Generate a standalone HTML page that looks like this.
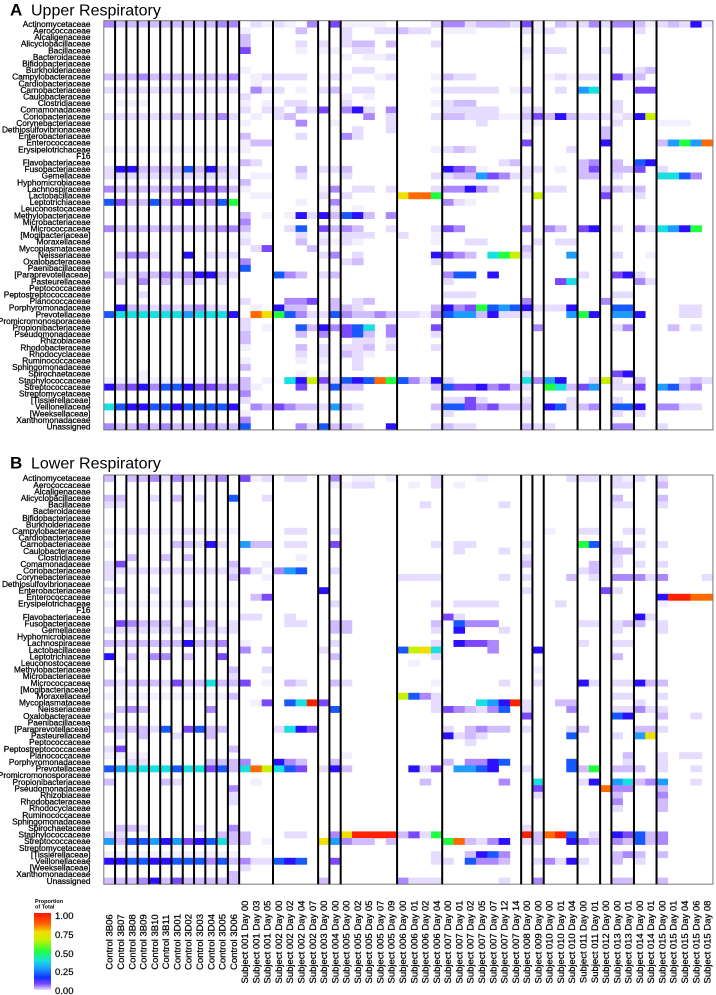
<!DOCTYPE html>
<html><head><meta charset="utf-8">
<style>
html,body{margin:0;padding:0;background:#fff;}
svg{display:block;font-family:"Liberation Sans",Arial,sans-serif;}
</style></head>
<body>
<svg id="chart" width="716" height="995" viewBox="0 0 716 995" xmlns="http://www.w3.org/2000/svg">
<text x="10" y="15.5" font-size="17" font-weight="bold">A</text>
<text x="31" y="15.5" font-size="16">Upper Respiratory</text>
<text x="10" y="468.5" font-size="17" font-weight="bold">B</text>
<text x="31" y="468.5" font-size="16">Lower Respiratory</text>
<g id="legend">
<defs><linearGradient id="lg" x1="0" y1="0" x2="0" y2="1">
<stop offset="0" stop-color="#ff1000"/><stop offset="0.15" stop-color="#ff6a00"/><stop offset="0.25" stop-color="#f0e000"/><stop offset="0.35" stop-color="#c8f000"/><stop offset="0.5" stop-color="#20ff40"/><stop offset="0.62" stop-color="#18e0e0"/><stop offset="0.72" stop-color="#1e9cff"/><stop offset="0.84" stop-color="#1030ff"/><stop offset="0.92" stop-color="#7a48ff"/><stop offset="1" stop-color="#e6dcff"/>
</linearGradient></defs>
<text x="35" y="903" font-size="5.5" font-weight="bold" fill="#000">Proportion</text>
<text x="35" y="908.5" font-size="5.5" font-weight="bold" fill="#000">of Total</text>
<rect x="34" y="913" width="17" height="77" fill="url(#lg)"/>
<g stroke="#000" stroke-width="0.2">
<text x="55" y="919" font-size="9.5">1.00</text>
<text x="55" y="938" font-size="9.5">0.75</text>
<text x="55" y="957" font-size="9.5">0.50</text>
<text x="55" y="975" font-size="9.5">0.25</text>
<text x="55" y="994" font-size="9.5">0.00</text>
</g>
</g>
</svg>
<script>
const families = ["Actinomycetaceae","Aerococcaceae","Alcaligenaceae","Alicyclobacillaceae","Bacillaceae","Bacteroidaceae","Bifidobacteriaceae","Burkholderiaceae","Campylobacteraceae","Cardiobacteriaceae","Carnobacteriaceae","Caulobacteraceae","Clostridiaceae","Comamonadaceae","Coriobacteriaceae","Corynebacteriaceae","Dethiosulfovibrionaceae","Enterobacteriaceae","Enterococcaceae","Erysipelotrichaceae","F16","Flavobacteriaceae","Fusobacteriaceae","Gemellaceae","Hyphomicrobiaceae","Lachnospiraceae","Lactobacillaceae","Leptotrichiaceae","Leuconostocaceae","Methylobacteriaceae","Microbacteriaceae","Micrococcaceae","[Mogibacteriaceae]","Moraxellaceae","Mycoplasmataceae","Neisseriaceae","Oxalobacteraceae","Paenibacillaceae","[Paraprevotellaceae]","Pasteurellaceae","Peptococcaceae","Peptostreptococcaceae","Planococcaceae","Porphyromonadaceae","Prevotellaceae","Promicromonosporaceae","Propionibacteriaceae","Pseudomonadaceae","Rhizobiaceae","Rhodobacteraceae","Rhodocyclaceae","Ruminococcaceae","Sphingomonadaceae","Spirochaetaceae","Staphylococcaceae","Streptococcaceae","Streptomycetaceae","[Tissierellaceae]","Veillonellaceae","[Weeksellaceae]","Xanthomonadaceae","Unassigned"];
const samples = ["Control 3B06","Control 3B07","Control 3B08","Control 3B09","Control 3B10","Control 3B11","Control 3D01","Control 3D02","Control 3D03","Control 3D04","Control 3D05","Control 3D06","Subject 001 Day 00","Subject 001 Day 03","Subject 001 Day 05","Subject 002 Day 00","Subject 002 Day 02","Subject 002 Day 04","Subject 002 Day 07","Subject 003 Day 00","Subject 004 Day 00","Subject 005 Day 00","Subject 005 Day 02","Subject 005 Day 05","Subject 005 Day 07","Subject 005 Day 09","Subject 006 Day 00","Subject 006 Day 01","Subject 006 Day 02","Subject 006 Day 04","Subject 007 Day 00","Subject 007 Day 01","Subject 007 Day 02","Subject 007 Day 05","Subject 007 Day 07","Subject 007 Day 12","Subject 007 Day 14","Subject 008 Day 00","Subject 009 Day 00","Subject 010 Day 00","Subject 010 Day 01","Subject 010 Day 04","Subject 011 Day 00","Subject 011 Day 01","Subject 012 Day 00","Subject 013 Day 00","Subject 013 Day 01","Subject 014 Day 00","Subject 014 Day 01","Subject 015 Day 00","Subject 015 Day 01","Subject 015 Day 04","Subject 015 Day 06","Subject 015 Day 08"];
const groupBreaks = [1,2,3,4,5,6,7,8,9,10,11,12,15,19,20,21,26,30,37,38,39,42,44,45,47,49];
const levelCodes = ".abcdefghijklmn";
const levelValues = [0,0.01,0.025,0.045,0.07,0.1,0.14,0.2,0.3,0.38,0.5,0.65,0.75,0.85,0.97];
const upperRows = [
"0:d 1-9:c 10-11:d 13:b 14:a 15:b 16:a 18:d 20:e 21-24:a 29:b 30-31:d 32:b 33-35:c 36:b 37:e 38:a 40:c 41:b 42:b 43:d 44:b 45-46:d 47:c 48:a 49:b 50:c 51:b 52:f 53:a",
"12:a 17:c 21:b 24-25:b 26:c 27-28:b 30-32:a 37:b 38:a 39:b 47:b",
"12:c 21:b",
"12:c 17:b 19:b 21:b 22-23:c 25:c 29:b",
"12:e 17:a 19-20:a 22-23:b 37:b 39-40:b 44:b",
"21:a 23-24:a 25:b 37:a",
"",
"12:a 22-23:b 47:b 48:c",
"0-11:c 3:d 11:d 13:a 14-17:b 19:a 20:b 21:a 24:a 25:b 29:a 30:c 31-32:b 39:a 40:b 41:a 42-43:b 45:e 46-47:c",
"13:a",
"0-11:b 13:d 14-15:b 17:a 19:b 20:c 22-23:b 29:a 30-34:b 36:a 37:c 40:b 42:h 43:i 47-48:e",
"12:b 21:a 23:a",
"1-3:a 12:a 14:a 16-17:b 21:b 29:a 30:b 31-32:c 45:b",
"12:b 14-15:b 17:c 18:b 19:e 21:d 22:f 23:b 25:d 30-34:b 37-38:b 45:b",
"0-11:b 6:c 8:c 10:d 13:a 15:b 16:c 23:d 25:b 29:b 30-31:c 32-34:b 35-36:a 37:c 38:e 39:c 40:f 41:c 42-44:b 45:a 46:b 47:f 48:k",
"12:a 17:d 20:a 25:b 33:b 37-38:a 45:b 49-51:a",
"22:b 25:b 37:a 44:c",
"12:c 17:b 21:d 22:b 44:c",
"12:a 13-14:c 37:e 44:f 49:c 50:h 51:j 52:h 53:m",
"0-11:a 12:a 29:a 30:b 31:c 32:b 41:b",
"",
"12:c 13:b 35:b 36:c 42:c 43:d 45:c 47:g 48:f",
"0:b 1:f 2:f 3-6:c 7:g 8:c 9:f 10:c 11:b 17:c 19-20:b 21:c 30:f 31:e 32:d 33:a 37-38:b 40:a 42:c 43:e 45-46:c 47:e 49:b",
"0-11:b 13-14:a 17:b 21:b 29:b 30:b 31-32:c 33:h 34:e 35:d 36:b 37:b 42-43:c 45:b 49-50:i 51:g 52:d",
"12:c",
"0-7:c 0:d 6-7:d 8-9:e 10:d 11:c 12:a 19:a 20:d 22-23:b 25:b 29:b 30-31:d 32:f 33:d 34:b 37:b 39-40:b 44:c 45:c 46:b 47:c",
"13-14:a 19:b 21:b 26:l 27:m 28:m 29:j 38:k 44:e 47:b",
"0:g 1:e 2-3:c 4:g 5:c 6:e 7:f 8:d 9:d 10:g 11:j 17:a 20:d 30:d 31:b 32:a",
"20:a 22:a",
"12:c 14:a 16:a 17:f 18:b 19:f 20:c 21:g 22:f 23:c 25:d",
"12:d",
"0-11:c 0:d 10-11:d 12:c 16:b 17:g 19:e 20:c 21:d 22:c 25:b 29:b 30:e 31:d 37:d 39:d 40:c 42:e 43:f 45:b 47:d 48:b 49:i 50:h 51:f 52:j",
"12:a 17:b 19:a 21:b 22-23:b 26:b 29:a",
"12:b 17:c 19:b 20:a 21:b 22:a 29:a 32-33:b 38:b 40-41:b",
"13:b 14:e 18:c 37:c",
"1:c 2-3:d 4:b 7:f 9-11:b 19:b 20:d 22:b 29:f 30:e 31:d 32:c 34:i 35:j 36:k 37:b 41:h 45:b 48:a",
"12:d 21:b 22:c 29:b",
"12:g",
"0:c 1-2:b 3-4:c 5:d 6:c 7:d 8-9:f 10:c 11:b 15:g 16:d 17:c 19:b 20:c 30:d 31-32:g 34:f 42:b 45:e 46:f 47:b",
"1:c 3:d 5:c 7:c 8:b 10:b 30:b 40:e 41:i 47:d 48:b",
"",
"3:b 30-32:b 45-46:b",
"12:b 16-17:d 18:e 20:c 22:b 23:c 37:d 44:d",
"1:f 2-3:c 4:b 5:c 6:b 7:c 8:d 9-10:b 13:a 15:f 16-17:c 20-21:c 22:b 29:c 30:f 31:d 32:e 33:j 34:g 35:h 36:g 37:f 38:b 39-40:b 41:f 45-46:g 51-52:b",
"0:g 1-6:i 7:h 8-10:i 11:f 13:m 14:l 15:j 16:g 17:d 18-19:b 20:g 21:d 22-23:c 24:d 25:c 26-27:b 28:a 29:d 30:g 31-32:h 33:c 34:f 35-36:b 37:b 41:h 42:j 43:f 45-46:h 47:f 51-52:b",
"12:b",
"12:b 14:a 17:g 18:c 19:f 20:d 21:e 22:g 23:i 25:d 29:e 38:d 45:b 46:d 50:c 52:b",
"12:c 17:c 19:d 21:e 22:g 23:c 25:d 29:b",
"12:c 22-23:b 25:a",
"12:a 17:c 19:b 21:b 22:b 23:c 25:b 29:b",
"17:b 19:b 21:c 22:b 23:a",
"12:a 17:a 19:a 22:b",
"12:c 22:b",
"3:a 17:a 19:a 37:b 45:e 46:f",
"0-11:a 12:c 14:a 16:i 17:f 18:k 19:e 20:b 21:g 22:f 23:g 24:m 25:j 26:g 27:d 28:b 29:f 30:b 37:i 38:d 39:h 40:f 43:b 44:k 45:b 47:c 51:b 52:c 53:b",
"0:f 1:d 2:e 3:f 4:d 5-6:g 7:f 8-9:e 10-11:d 12:c 13:a 17:e 19:b 20:g 21-22:c 29:c 30:g 31-32:e 33:f 34:d 35:e 36:c 37:b 39:j 40:i 41:c 42:e 43:h 45-46:b 47:e 49:h 50:g 51:c 52:d",
"12:d",
"12:b 30-31:b 32:e 33:b 37:b 41:b 45:b",
"0:i 1:g 2-3:f 4-5:g 6:f 7-10:g 11:f 13:d 14:c 15:e 16:d 17-18:c 19:b 20:h 21:c 22:b 29:c 30-31:g 32:e 33:d 34:e 35-36:c 37:c 39:f 40:g 41:b 42:c 43:d 45-46:g 47:f 49-50:d 51-52:b",
"12:a 30:b 45:b 47:b",
"12:d",
"0:d 1-2:c 3:d 4:c 5:d 6-8:c 9:d 10-11:c 12:g 17:d 18:b 19:g 20-21:c 22:b 25:f 29:b 30:c 31-32:b 37:c 38-39:b 45-46:d 49:b"
];
const lowerRows = [
"0:c 2-3:c 4:d 5:b 6:d 7:c 8:b 9:c 10:d 12:e 13:a 14:b 16-17:b 20:d 22-23:a 25:a 29:b 33:a 41-43:b 45:b 46:a 47:b 49:b",
"20-21:a 22-23:b 27:a 29:b 31:a 45-46:b 49:c",
"",
"0-1:c 4:b 6:c 8:b 11:g 14:b 45:c 49:c",
"0-1:b 28:b 35:b 45-46:b 49:b",
"","","",
"0-11:a 2-3:b 7-8:b 16-17:b 20:b 39:a 42-43:b 46-47:b",
"",
"0:a 6-7:c 8:b 9:f 10:b 12:h 13-14:c 16-17:b 20:e 29:b 31-32:b 37:b 42:j 43:g 45:b 47:b 49:b",
"31:b 35:b 45-46:c",
"2:c 5:c 7:c 17:a 37:b 45:b",
"0:b 1:e 11:c 14:a 37:c 43:c 45:b 47:b 49:b",
"0-11:b 12:d 13:b 15:d 16:h 17:g 20:b 42:b 43:c",
"0:b 11:c 14:a 26-29:b 35:b 37:b 41:c 43:b 45-47:d 48:b 49:d 53:b",
"",
"0:b 1:c 4:b 19:f 37:b 44:e 45:b",
"13:c 14:e 49:f 50-51:n 52-53:m",
"0-11:a 7:c 20:b 29:b 31-34:b 40:b 49:a",
"",
"12-13:b 16:b 30:e 31:b 47:f 48:b",
"1:e 2:d 3-5:c 7:c 9:c 11:b 16-17:b 20-21:c 29:c 31:g 32-34:d 42-43:b 45:b 46-47:c 49:b",
"0-11:b 20-21:c 29:b 31:f 35:b 45:b 49:b",
"",
"0-6:c 7:f 8-9:c 10:d 12:a 20:b 29:b 31:f 32-33:e 34:d 42:b 45-46:b",
"12:d 14:c 19:b 26:g 27:k 28:l 29:i 34:d 38:f",
"0:f 2:c 4-5:d 7:c 10:e 20:c 29:b 45:c",
"27:a",
"1:a 11:c 14:b 38:a",
"11:b",
"0:c 1:b 2-4:c 5:b 6:e 7-8:c 9:i 10-11:c 12:e 14:a 16:c 17:b 20:c 21:b 29:a 35:b 38:b 42:f 43:b 45-46:b 47:f 48-49:c",
"1:a",
"0-11:a 11:c 26:k 27:g 28:d 29:b 45-46:b 49:b",
"13:a 14:e 16:g 17:i 18:n 19:e 29:b 33:i 34:h 35:f 36:n 37:b 40-41:c 47:b",
"1:c 2:d 3:c 9:d 20:g 29:b 30:e 31:d 32:c 33:b 34:d 35:g 37:b 41:d 45-46:b 47:d 48:b 49:b",
"0:b 37:e 45:g 46:f 49:c 52:b",
"",
"0-3:c 4:b 5:g 7:e 8:g 9-10:c 15:b 16:i 17:f 18:e 30:b 32:c 33:d 34-35:c 37:b 41:b 42:c 47-48:c 49:b",
"1:b 3:c 6:b 9:c 30:f 31:b 32:c 33:b 41:g 45:b 47:h 48:l",
"32:b",
"0:b 1:e 11:c",
"0-3:a 21:a 46:c 49:b 51-52:b",
"2-3:b 9-11:c 12:d 15:f 16:d 17:c 20:c 30:c 32-33:d 34:f 35:g 41:g 46:b 49:b",
"0:g 1:h 2-5:i 6:g 7-8:i 9:e 10:g 11:c 12:i 13:m 14:k 15:i 16:g 17:e 19:b 20:f 21:c 27:f 28:b 29:e 31-32:h 33:g 34:f 37:b 41:g 42:c 43:j 45-47:c 49:b 52:b",
"",
"0:c 5:c 6:b 13:a 28:c 35:d 38:i 42:b 43:f 45:h 46:i 47:c 48:d 49:h 52:b",
"11:d 38:e 44:m 45-46:d 49:c",
"11:b 38:b 45:c 49:d",
"11:b 45:d 49:c",
"45:b 49:c",
"","",
"1-2:c 3:b 8:b 11:d 37:b",
"0-1:b 10-11:c 12:c 16-17:b 20:d 21:l 22-25:n 26:c 27:e 28:b 29:j 37:n 38:c 39:m 40:n 41:g 43:b 45:f 46:e 47:g 48:c 49:d",
"0:h 1:c 2-3:g 4:h 5:f 6:h 7:e 8:f 9:g 10:i 11:c 12:c 14:a 19:l 20:h 21:d 22-23:c 25:c 30:j 31:m 32:c 33:b 34:d 35:f 37:b 38:c 41:f 42:d 43:c 45:d 46:c 47:g 48:c 49:d",
"",
"0-11:a 29:b 32:c 33:f 34:g 35:d 45:c 46:d 47:c 49:c",
"0-1:f 2-3:g 4-5:f 6-8:g 9:d 10:g 11:c 12:d 13-14:b 15:g 16:f 17:g 20:e 29-30:b 32:g 33-34:d 35:c 38:b 39:d 40:b 41:f 42:b 45:c 47:b",
"12:b",
"11:c",
"0-2:c 3:d 4:f 5:c 6:e 7-11:c 19:c 26:d 27-29:b 35:b 38:d 45-46:c 49:c"
];

const NS = "http://www.w3.org/2000/svg";
const svg = document.getElementById('chart');
const X0 = 103.8, CW = 11.28, RH = 6.6;
const stops = [[0,[255,255,255]],[0.01,[243,239,254]],[0.025,[230,220,255]],[0.045,[208,188,255]],[0.07,[171,136,255]],[0.1,[122,72,255]],[0.14,[42,16,255]],[0.2,[24,88,255]],[0.3,[30,156,255]],[0.38,[24,224,224]],[0.5,[32,255,64]],[0.65,[200,240,0]],[0.75,[240,224,0]],[0.85,[255,106,0]],[1,[255,16,0]]];
function colorOf(v){
  for(let i=1;i<stops.length;i++){
    if(v<=stops[i][0]){
      const a=stops[i-1],b=stops[i],t=(v-a[0])/(b[0]-a[0]);
      const c=a[1].map((x,k)=>Math.round(x+(b[1][k]-x)*t));
      return 'rgb('+c.join(',')+')';
    }
  }
  return 'rgb(255,16,0)';
}
function parseRow(str){
  const vals=new Array(samples.length).fill(0);
  str.trim().split(/\s+/).filter(s=>s).forEach(tok=>{
    const [rng,code]=tok.split(':');
    const p=rng.split('-').map(Number);
    const a=p[0], b=p.length>1?p[1]:p[0];
    const v=levelValues[levelCodes.indexOf(code)];
    for(let c=a;c<=b;c++) vals[c]=v;
  });
  return vals;
}
const xScale = c => X0 + c*CW;
function drawPanel(rows, top, key){
  const g=document.createElementNS(NS,'g');
  
  
  svg.appendChild(g);
  const yScale = r => top + r*RH;
  rows.forEach((str,r)=>{
    const vals=parseRow(str);
    vals.forEach((v,c)=>{
      if(v<=0) return;
      const rect=document.createElementNS(NS,'rect');
      rect.setAttribute('x',xScale(c));
      rect.setAttribute('y',yScale(r));
      rect.setAttribute('width',CW+0.3);
      rect.setAttribute('height',RH+0.3);
      rect.setAttribute('fill',colorOf(v));
      
      
      g.appendChild(rect);
    });
    const t=document.createElementNS(NS,'text');
    t.setAttribute('x',90.5);
    t.setAttribute('y',yScale(r)+RH/2+2.9);
    t.setAttribute('text-anchor','end');
    t.setAttribute('font-size','8.3');
    t.setAttribute('stroke','#000');
    t.setAttribute('stroke-width','0.25');
    t.textContent=families[r];
    
    
    svg.appendChild(t);
  });
  const H = rows.length*RH;
  const frame=document.createElementNS(NS,'rect');
  frame.setAttribute('x',X0);frame.setAttribute('y',top);
  frame.setAttribute('width',samples.length*CW);frame.setAttribute('height',H);
  frame.setAttribute('fill','none');frame.setAttribute('stroke','#777');frame.setAttribute('stroke-width','1');
  
  
  svg.appendChild(frame);
  groupBreaks.forEach(b=>{
    const l=document.createElementNS(NS,'line');
    l.setAttribute('x1',xScale(b));l.setAttribute('x2',xScale(b));
    l.setAttribute('y1',top);l.setAttribute('y2',top+H);
    l.setAttribute('stroke','#000');l.setAttribute('stroke-width','2');
    
    
    svg.appendChild(l);
  });
}
drawPanel(upperRows, 20.7, 'upper');
drawPanel(lowerRows, 475, 'lower');
samples.forEach((s,c)=>{
  const t=document.createElementNS(NS,'text');
  const x=xScale(c)+CW/2+3.3, y=942;
  t.setAttribute('x',x);t.setAttribute('y',y);
  t.setAttribute('transform','rotate(-90 '+x+' '+y+')');
  t.setAttribute('text-anchor','middle');
  t.setAttribute('font-size','9.5');
  t.setAttribute('stroke','#000');
  t.setAttribute('stroke-width','0.25');
  t.textContent=s;
  
  
  svg.appendChild(t);
});
</script>
</body></html>
